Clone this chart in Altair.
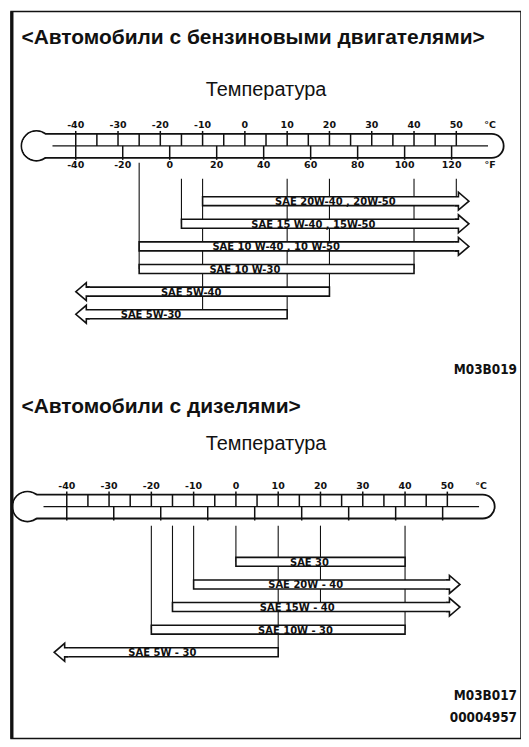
import altair as alt
import pandas as pd

# ---------------- values ----------------
GAS_GRADES = ["SAE 20W-40 , 20W-50", "SAE 15 W-40 , 15W-50", "SAE 10 W-40 , 10 W-50",
              "SAE 10 W-30", "SAE 5W-40", "SAE 5W-30"]
GAS_FROM = [-10, -15, -25, -25, -37.5, -37.5]      # °C, left end of bar body
GAS_TO = [50.5, 50.5, 50.5, 40, 20, 10]            # °C, right end of bar body
GAS_OPEN_LEFT = [0, 0, 0, 0, 1, 1]
GAS_OPEN_RIGHT = [1, 1, 1, 0, 0, 0]
GAS_LABEL_AT = [21.4, 16.2, 7.4, 0.0, -12.7, -22.2]
GAS_GUIDE_T = [-25, -15, -10, 10, 20, 40, 50]
GAS_GUIDE_TO_ROW = [3, 1, 5, 5, 4, 3, 0]

DSL_GRADES = ["SAE 30", "SAE 20W - 40", "SAE 15W - 40", "SAE 10W - 30", "SAE 5W - 30"]
DSL_FROM = [0, -10, -15, -20, -40.5]
DSL_TO = [40, 50.5, 50.5, 40, 10]
DSL_OPEN_LEFT = [0, 0, 0, 0, 1]
DSL_OPEN_RIGHT = [0, 1, 1, 0, 0]
DSL_LABEL_AT = [17.4, 16.5, 14.5, 14.1, -17.4]
DSL_GUIDE_T = [-20, -15, -10, 0, 10, 20, 40]
DSL_GUIDE_TO_ROW = [3, 2, 1, 0, 4, 2, 3]

C_TICKS = list(range(-40, 55, 5))
C_LABELS = [-40, -30, -20, -10, 0, 10, 20, 30, 40, 50]
F_TICKS = [-40, -20, 0, 20, 40, 60, 80, 100, 120]

TITLES = ["<Автомобили с бензиновыми двигателями>", "<Автомобили с дизелями>"]
SUBTITLE = "Температура"
GAS_CODES = ["M03B019"]
DSL_CODES = ["M03B017", "00004957"]

# ---------------- layout ----------------
W, H = 512, 730
INK = "#111111"
PX_PER_C = 4.245
ROW_PX = 22.7
ROW0_PX = 190.5
GAS_X40 = 65.0
DSL_X40 = 56.0
DSL_BASE = 15.95

TUBE_Y = -2.445
TUBE_HALF_PX = 12.0
TICK10_UP = 15.0
F_TICK_DOWN = 14.0
C_LABEL_Y = -3.36
F_LABEL_Y = -1.61
BULB_T = -49.3
BULB_D = 30.0
TUBE_END_T = 61.2
MID_FROM_T = -45.5
MID_TO_T = 57.5
UNIT_T = 58.0
OUT_W = 1.8
BAR_W = 1.6
BAR_HALF = 4.5 / ROW_PX
HEAD_SIZE = 324
RIGHT_HEAD = "M -0.4 -0.5 L 0 -0.5 L 0 -1 L 1.17 0 L 0 1 L 0 0.5 L -0.4 0.5"
LEFT_HEAD = "M 0.4 -0.5 L 0 -0.5 L 0 -1 L -1.17 0 L 0 1 L 0 0.5 L 0.4 0.5"
SMALL_FONT = "DejaVu Sans"
CODE_FONT = "Liberation Sans Narrow, DejaVu Sans Condensed, Liberation Sans"

Y_SCALE = alt.Scale(domain=[-ROW0_PX / ROW_PX, (H - ROW0_PX) / ROW_PX],
                    reverse=True, nice=False, zero=False)


def x_domain(x40):
    return [-40 - x40 / PX_PER_C, -40 + (W - x40) / PX_PER_C]


def Xq(field, dom):
    return alt.X(field, type="quantitative",
                 scale=alt.Scale(domain=dom, nice=False, zero=False), axis=None)


def Yq(field):
    return alt.Y(field, type="quantitative", scale=Y_SCALE, axis=None)


def section(base, x40, grades, t_from, t_to, open_l, open_r, label_at,
            guide_t, guide_from, guide_to, show_f, title, title_y, temp_y,
            codes, code_rows):
    dom = x_domain(x40)
    L = []
    # connector lines
    g = pd.DataFrame({"t": guide_t,
                      "y1": [base + v for v in guide_from],
                      "y2": [base + r for r in guide_to]})
    L.append(alt.Chart(g).mark_rule(color=INK, strokeWidth=1.1).encode(
        x=Xq("t", dom), y=Yq("y1"), y2="y2"))

    # thermometer
    ty = base + TUBE_Y
    bulb = pd.DataFrame({"t": [BULB_T], "y": [ty]})
    L.append(alt.Chart(bulb).mark_point(
        shape="circle", size=BULB_D ** 2, filled=True, fill="white",
        stroke=INK, strokeWidth=OUT_W, opacity=1).encode(x=Xq("t", dom), y=Yq("y")))
    tube = pd.DataFrame({"t1": [BULB_T - TUBE_HALF_PX / PX_PER_C], "t2": [TUBE_END_T],
                         "y1": [ty - TUBE_HALF_PX / ROW_PX], "y2": [ty + TUBE_HALF_PX / ROW_PX]})
    L.append(alt.Chart(tube).mark_rect(
        cornerRadius=TUBE_HALF_PX, fill="white", stroke=INK, strokeWidth=OUT_W).encode(
        x=Xq("t1", dom), x2="t2", y=Yq("y1"), y2="y2"))
    L.append(alt.Chart(bulb).mark_point(
        shape="circle", size=(BULB_D - OUT_W) ** 2, filled=True, fill="white",
        stroke="white", strokeWidth=0, opacity=1).encode(x=Xq("t", dom), y=Yq("y")))
    mid = pd.DataFrame({"t1": [MID_FROM_T], "t2": [MID_TO_T], "y": [ty]})
    L.append(alt.Chart(mid).mark_rule(color=INK, strokeWidth=1.2).encode(
        x=Xq("t1", dom), x2="t2", y=Yq("y")))
    ct = pd.DataFrame({"t": C_TICKS})
    ct["y1"] = [ty - (TICK10_UP if t % 10 == 0 else TUBE_HALF_PX) / ROW_PX for t in C_TICKS]
    ct["y2"] = ty
    L.append(alt.Chart(ct).mark_rule(color=INK, strokeWidth=1.5).encode(
        x=Xq("t", dom), y=Yq("y1"), y2="y2"))
    ft = pd.DataFrame({"t": [(f - 32) * 5 / 9 for f in F_TICKS]})
    ft["y1"] = ty
    ft["y2"] = ty + F_TICK_DOWN / ROW_PX
    L.append(alt.Chart(ft).mark_rule(color=INK, strokeWidth=1.5).encode(
        x=Xq("t", dom), y=Yq("y1"), y2="y2"))
    cl = pd.DataFrame({"t": C_LABELS + [UNIT_T],
                       "txt": [str(v) for v in C_LABELS] + ["°C"]})
    cl["y"] = base + C_LABEL_Y
    L.append(alt.Chart(cl).mark_text(
        font=SMALL_FONT, fontWeight="bold", fontSize=9.5, color=INK, baseline="middle").encode(
        x=Xq("t", dom), y=Yq("y"), text="txt:N"))
    if show_f:
        fl = pd.DataFrame({"t": [(f - 32) * 5 / 9 for f in F_TICKS] + [UNIT_T],
                           "txt": [str(f) for f in F_TICKS] + ["°F"]})
        fl["y"] = base + F_LABEL_Y
        L.append(alt.Chart(fl).mark_text(
            font=SMALL_FONT, fontWeight="bold", fontSize=9.5, color=INK, baseline="middle").encode(
            x=Xq("t", dom), y=Yq("y"), text="txt:N"))

    # oil grade bars
    n = len(grades)
    b = pd.DataFrame({"grade": grades, "t1": t_from, "t2": t_to,
                      "row": [base + i for i in range(n)], "lab": label_at,
                      "open_l": open_l, "open_r": open_r})
    b["y1"] = b["row"] - BAR_HALF
    b["y2"] = b["row"] + BAR_HALF
    L.append(alt.Chart(b).mark_rect(fill="white", stroke=INK, strokeWidth=BAR_W).encode(
        x=Xq("t1", dom), x2="t2", y=Yq("y1"), y2="y2"))
    rh = b[b["open_r"] == 1]
    if len(rh):
        L.append(alt.Chart(rh).mark_point(
            shape=RIGHT_HEAD, size=HEAD_SIZE, filled=True, fill="white",
            stroke=INK, strokeWidth=BAR_W, opacity=1).encode(x=Xq("t2", dom), y=Yq("row")))
    lh = b[b["open_l"] == 1]
    if len(lh):
        L.append(alt.Chart(lh).mark_point(
            shape=LEFT_HEAD, size=HEAD_SIZE, filled=True, fill="white",
            stroke=INK, strokeWidth=BAR_W, opacity=1).encode(x=Xq("t1", dom), y=Yq("row")))
    L.append(alt.Chart(b).mark_text(
        font=SMALL_FONT, fontWeight="bold", fontSize=10, color=INK, baseline="middle",
        dy=1).encode(x=Xq("lab", dom), y=Yq("row"), text="grade:N"))

    # texts
    tt = pd.DataFrame({"txt": [title], "y": [base + title_y]})
    L.append(alt.Chart(tt).mark_text(
        align="left", baseline="middle", font="Liberation Sans", fontWeight="bold",
        fontSize=21, color=INK).encode(x=alt.value(10.5), y=Yq("y"), text="txt:N"))
    st = pd.DataFrame({"txt": [SUBTITLE], "y": [base + temp_y]})
    L.append(alt.Chart(st).mark_text(
        align="center", baseline="middle", font="Liberation Sans", fontSize=20,
        color=INK).encode(x=alt.value(W / 2), y=Yq("y"), text="txt:N"))
    cd = pd.DataFrame({"txt": codes, "y": [base + r for r in code_rows]})
    L.append(alt.Chart(cd).mark_text(
        align="right", baseline="middle", font=CODE_FONT, fontWeight="bold",
        fontSize=13.5, color=INK).encode(x=alt.value(W - 4), y=Yq("y"), text="txt:N"))
    return L


layers = []
layers += section(0.0, GAS_X40, GAS_GRADES, GAS_FROM, GAS_TO, GAS_OPEN_LEFT, GAS_OPEN_RIGHT,
                  GAS_LABEL_AT, GAS_GUIDE_T, [-1.70] + [-0.99] * 6, GAS_GUIDE_TO_ROW,
                  True, TITLES[0], -7.2, -4.93, GAS_CODES, [7.46])
layers += section(DSL_BASE, DSL_X40, DSL_GRADES, DSL_FROM, DSL_TO, DSL_OPEN_LEFT, DSL_OPEN_RIGHT,
                  DSL_LABEL_AT, DSL_GUIDE_T, [-1.6] * 7, DSL_GUIDE_TO_ROW,
                  False, TITLES[1], -6.85, -5.22, DSL_CODES, [5.93, 6.9])

frame = pd.DataFrame({"k": [0]})
layers.append(alt.Chart(frame).mark_rule(color=INK, strokeWidth=3).encode(
    x=alt.value(1), y=alt.value(0), y2=alt.value(H)))

chart = alt.layer(*layers).resolve_scale(x="independent").properties(
    width=W, height=H, padding=0, background="white"
).configure_view(stroke=INK, strokeWidth=1.5)

chart.save("out.html", embed_options={"renderer": "svg", "actions": False})
